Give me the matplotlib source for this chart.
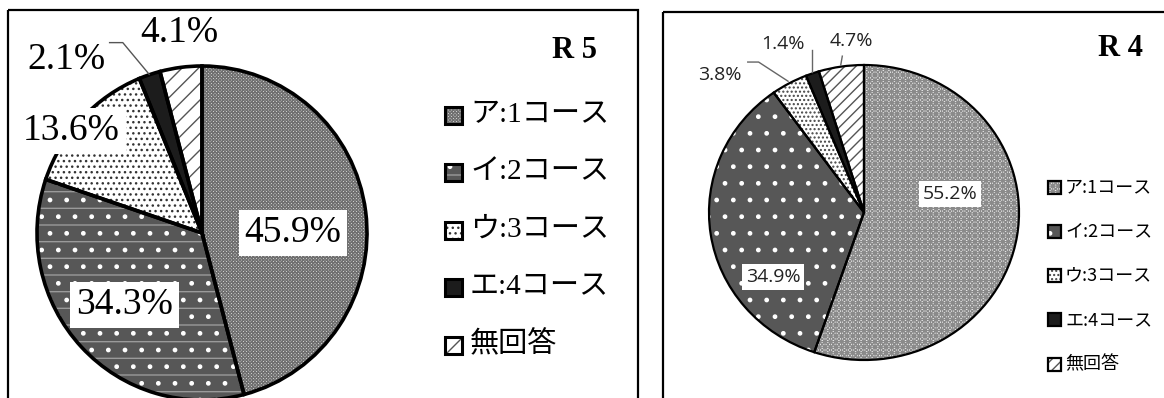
import matplotlib
matplotlib.use("Agg")
import matplotlib.pyplot as plt
from matplotlib.patches import Rectangle

# ---- data -------------------------------------------------------------
categories = ["ア:1コース", "イ:2コース", "ウ:3コース", "エ:4コース", "無回答"]
r5_values = [45.9, 34.3, 13.6, 2.1, 4.1]
r4_values = [55.2, 34.9, 3.8, 1.4, 4.7]
r5_title = "R 5"
r4_title = "R 4"

# ---- styling ----------------------------------------------------------
plt.rcParams["hatch.linewidth"] = 1.0
SERIF = ["Liberation Serif", "Noto Sans CJK JP"]
SANS = ["Noto Sans CJK JP", "DejaVu Sans"]

# each style: face colour plus one or two hatch layers (pattern, colour)
r5_styles = [
    dict(face="#f4f4f4", layers=[("x" * 10, "#707070")]),
    dict(face="#575757", layers=[("-", "#9a9a9a"), (".", "white")]),
    dict(face="white", layers=[("...", "#333333")]),
    dict(face="#1c1c1c", layers=[]),
    dict(face="white", layers=[("//", "#555555")]),
]
r4_styles = [
    dict(face="white", layers=[("x" * 6 + "+" * 3, "#8a8a8a")]),
    dict(face="#575757", layers=[(".", "white")]),
    dict(face="white", layers=[("....", "#444444")]),
    dict(face="#1c1c1c", layers=[]),
    dict(face="white", layers=[("///", "#555555")]),
]

W, H = 1164, 398
fig = plt.figure(figsize=(W / 100, H / 100), dpi=100)

# full-figure overlay in pixel units for frames, titles and legends
ov = fig.add_axes([0, 0, 1, 1])
ov.set_xlim(0, W)
ov.set_ylim(H, 0)
ov.axis("off")


def ellipse_axes(cx, cy, rx, ry):
    return fig.add_axes([(cx - rx) / W, 1 - (cy + ry) / H, 2 * rx / W, 2 * ry / H])


def draw_pie(ax, values, styles, edge_lw):
    base, _ = ax.pie(values, startangle=90, counterclock=False, radius=1,
                     wedgeprops=dict(linewidth=0, clip_on=False))
    for w, st in zip(base, styles):
        w.set_facecolor(st["face"])
    n_layers = max(len(st["layers"]) for st in styles)
    for k in range(n_layers):
        layer, _ = ax.pie(values, startangle=90, counterclock=False, radius=1,
                          wedgeprops=dict(linewidth=0, clip_on=False))
        for w, st in zip(layer, styles):
            w.set_facecolor("none")
            if k < len(st["layers"]):
                pat, col = st["layers"][k]
                w.set_hatch(pat)
                w.set_edgecolor(col)
            w.set_linewidth(0)
    ax.pie(values, startangle=90, counterclock=False, radius=1,
           wedgeprops=dict(fill=False, edgecolor="black", linewidth=edge_lw,
                           clip_on=False))
    ax.set_xlim(-1, 1)
    ax.set_ylim(-1, 1)
    ax.set_aspect("auto")
    ax.axis("off")


def legend(x, y0, pitch, size, lw, styles, fontsize, family, gap):
    for i, (lab, st) in enumerate(zip(categories, styles)):
        yc = y0 + i * pitch
        ov.add_patch(Rectangle((x, yc - size / 2), size, size, facecolor=st["face"],
                               linewidth=0))
        for pat, col in st["layers"]:
            ov.add_patch(Rectangle((x, yc - size / 2), size, size, facecolor="none",
                                   hatch=pat, edgecolor=col, linewidth=0))
        ov.add_patch(Rectangle((x, yc - size / 2), size, size, fill=False,
                               edgecolor="black", linewidth=lw))
        ov.text(x + size + gap, yc, lab, fontsize=fontsize, family=family,
                ha="left", va="center", color="black")


# ---- frames -----------------------------------------------------------
ov.add_patch(Rectangle((8, 10), 630, 420, fill=False, edgecolor="black", linewidth=1.6))
ov.add_patch(Rectangle((663, 12), 560, 420, fill=False, edgecolor="black", linewidth=1.6))

# ---- R5 (left) --------------------------------------------------------
ax5 = ellipse_axes(202, 233, 165, 167)
draw_pie(ax5, r5_values, r5_styles, 2.6)
r5_pos = [(0.55, 0.0), (-0.47, -0.43), (-0.79, 0.61), (-0.82, 1.04), (-0.14, 1.2)]
r5_boxed = [True, True, True, False, False]
for v, (px, py), boxed in zip(r5_values, r5_pos, r5_boxed):
    ax5.text(px, py, f"{v:.1f}%", fontsize=27, family=SERIF, ha="center", va="center",
             bbox=dict(facecolor="white", edgecolor="none", pad=4) if boxed else None)
ax5.plot([-0.56, -0.48, -0.32], [1.14, 1.14, 0.95], color="#555555", lw=1.0,
         clip_on=False)
ov.text(574, 50, r5_title, fontsize=22, family=SERIF, fontweight="bold",
        ha="center", va="center")
legend(445, 115, 57.5, 17, 2.2, r5_styles, 21, SERIF, 8)

# ---- R4 (right) -------------------------------------------------------
ax4 = ellipse_axes(864, 212.5, 155, 147.5)
draw_pie(ax4, r4_values, r4_styles, 1.6)
r4_pos = [(0.555, 0.125), (-0.587, -0.44), (-0.93, 0.93), (-0.52, 1.14), (-0.08, 1.16)]
r4_boxed = [True, True, False, False, False]
for v, (px, py), boxed in zip(r4_values, r4_pos, r4_boxed):
    ax4.text(px, py, f"{v:.1f}%", fontsize=14, family=["Open Sans"], ha="center",
             va="center", color="#222222",
             bbox=dict(facecolor="white", edgecolor="none", pad=3) if boxed else None)
ax4.plot([-0.75, -0.68, -0.49], [1.02, 1.02, 0.89], color="#666666", lw=1.0, clip_on=False)
ax4.plot([-0.335, -0.335], [1.10, 0.95], color="#666666", lw=1.0, clip_on=False)
ax4.plot([-0.14, -0.15], [1.06, 1.0], color="#666666", lw=1.0, clip_on=False)
ov.text(1120, 48, r4_title, fontsize=22, family=SERIF, fontweight="bold",
        ha="center", va="center")
legend(1048, 187, 44.3, 13, 1.6, r4_styles, 13, SANS, 4)

fig.savefig("out.png", dpi=100)
